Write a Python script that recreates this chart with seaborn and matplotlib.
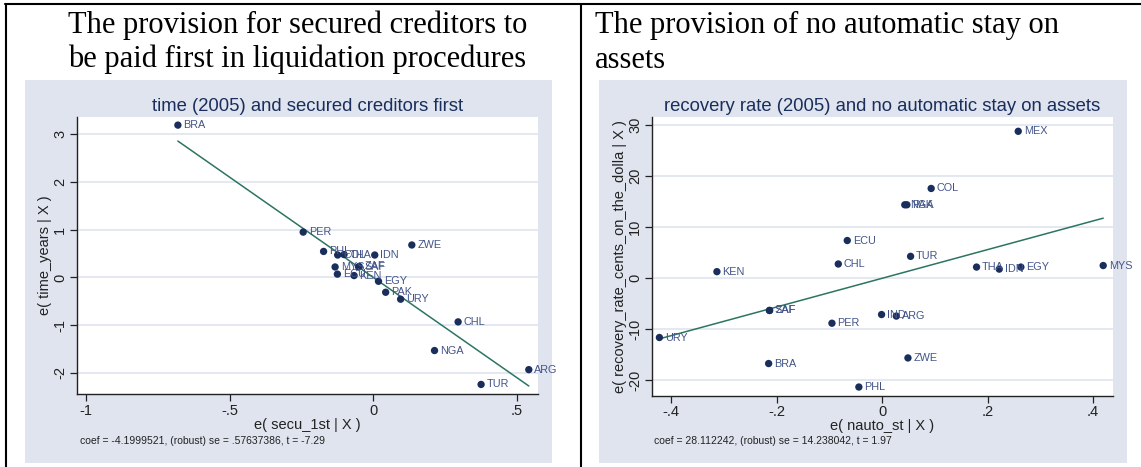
import matplotlib
matplotlib.use("Agg")
import matplotlib.pyplot as plt
import seaborn as sns
import numpy as np
import pandas as pd
from matplotlib.patches import Rectangle
from matplotlib.lines import Line2D

# ---------------- data ----------------
left_codes = ["BRA", "PER", "ZWE", "PHL", "COL", "THA", "IDN", "MYS", "SAF", "ZAF",
              "ECU", "KEN", "EGY", "PAK", "URY", "CHL", "NGA", "ARG", "TUR"]
left_x = [-0.68, -0.244, 0.134, -0.173, -0.124, -0.102, 0.005, -0.133, -0.051, -0.049,
          -0.125, -0.067, 0.018, 0.043, 0.095, 0.295, 0.213, 0.541, 0.375]
left_y = [3.19, 0.95, 0.68, 0.545, 0.47, 0.48, 0.47, 0.22, 0.22, 0.23,
          0.07, 0.04, -0.08, -0.31, -0.455, -0.93, -1.53, -1.93, -2.24]
left_coef = -4.1999521

right_codes = ["MEX", "COL", "NGA", "PAK", "ECU", "TUR", "CHL", "KEN", "THA", "IDN",
               "EGY", "MYS", "SAF", "ZAF", "IND", "ARG", "PER", "URY", "BRA", "ZWE", "PHL"]
right_x = [0.258, 0.093, 0.043, 0.047, -0.066, 0.054, -0.083, -0.313, 0.179, 0.222,
           0.263, 0.419, -0.2136, -0.2130, -0.001, 0.027, -0.095, -0.422, -0.215, 0.049, -0.044]
right_y = [28.8, 17.6, 14.4, 14.4, 7.4, 4.3, 2.8, 1.3, 2.2, 1.8,
           2.2, 2.5, -6.3, -6.3, -7.1, -7.4, -8.8, -11.6, -16.7, -15.6, -21.3]
right_coef = 28.112242

left_xticks = [-1, -0.5, 0, 0.5]
left_xticklabels = ["-1", "-.5", "0", ".5"]
left_yticks = [-2, -1, 0, 1, 2, 3]
right_xticks = [-0.4, -0.2, 0, 0.2, 0.4]
right_xticklabels = ["-.4", "-.2", "0", ".2", ".4"]
right_yticks = [-20, -10, 0, 10, 20, 30]

heading_left = ["The provision for secured creditors to", "be paid first in liquidation procedures"]
heading_right = ["The provision of no automatic stay on", "assets"]
title_left = "time (2005) and secured creditors first"
title_right = "recovery rate (2005) and no automatic stay on assets"
xlabel_left = "e( secu_1st | X )"
ylabel_left = "e( time_years | X )"
xlabel_right = "e( nauto_st | X )"
ylabel_right = "e( recovery_rate_cents_on_the_dolla | X )"
note_left = "coef = -4.1999521, (robust) se = .57637386, t = -7.29"
note_right = "coef = 28.112242, (robust) se = 14.238042, t = 1.97"

# ---------------- styling ----------------
sns.set_theme(style="white")
plt.rcParams["font.family"] = ["Liberation Sans", "DejaVu Sans"]

W, H = 1141, 467
BG = "#dfe4ee"
NAVY = "#1a2e5c"
LABEL = "#43548a"
LINE = "#2b7561"
GRID = "#e1e6f0"

fig = plt.figure(figsize=(W / 100, H / 100), dpi=100)
fig.patch.set_facecolor("white")


def fx(px):
    return px / W


def fy(py):
    return 1 - py / H


# graph-region backgrounds
for x0, x1 in [(25, 552), (599, 1127)]:
    fig.add_artist(Rectangle((fx(x0), fy(462.5)), fx(x1) - fx(x0), fy(80) - fy(462.5),
                             transform=fig.transFigure, facecolor=BG, edgecolor="none", zorder=0))

# table borders
for (xa, ya, xb, yb) in [(5, 4, 1141, 4), (6, 4, 6, 467), (581, 4, 581, 467)]:
    fig.add_artist(Line2D([fx(xa), fx(xb)], [fy(ya), fy(yb)], transform=fig.transFigure,
                          color="black", lw=1.5, zorder=5))

# headings
serif = ["Liberation Serif", "DejaVu Serif"]
for lines, x0 in [(heading_left, 68), (heading_right, 595)]:
    for i, t in enumerate(lines):
        fig.text(fx(x0), fy(32.5 + 35 * i), t, family=serif, fontsize=22, color="black",
                 ha="left", va="baseline")


def panel(rect, codes, xs, ys, coef, xlim, ylim, xticks, xticklabels, yticks,
          title, xlabel, ylabel, note, note_x, title_y):
    ax = fig.add_axes(rect)
    ax.set_facecolor("white")
    df = pd.DataFrame({"x": xs, "y": ys, "code": codes})
    xline = np.array([df["x"].min(), df["x"].max()])
    line_df = pd.DataFrame({"x": xline, "y": coef * xline})
    sns.lineplot(data=line_df, x="x", y="y", ax=ax, color=LINE, lw=1.1, zorder=2)
    sns.scatterplot(data=df, x="x", y="y", ax=ax, color=NAVY, s=28, edgecolor="none", zorder=3)
    for c, x, y in zip(codes, xs, ys):
        ax.annotate(c, (x, y), xytext=(4, 0), textcoords="offset points",
                    fontsize=7.8, color=LABEL, va="center", ha="left", zorder=4,
                    annotation_clip=False)
    ax.set_xlim(*xlim)
    ax.set_ylim(*ylim)
    ax.set_xticks(xticks)
    ax.set_xticklabels(xticklabels)
    ax.set_yticks(yticks)
    ax.set_yticklabels([str(v) for v in yticks], rotation=90, va="center")
    ax.yaxis.grid(True, color=GRID, lw=1.3)
    ax.xaxis.grid(False)
    ax.set_axisbelow(True)
    for s in ["top", "right"]:
        ax.spines[s].set_visible(False)
    for s in ["left", "bottom"]:
        ax.spines[s].set_color("#222222")
        ax.spines[s].set_linewidth(1.0)
    ax.tick_params(axis="both", which="major", direction="out", length=5, width=0.9,
                   color="#222222", labelsize=10.5, labelcolor="#222222", pad=2,
                   bottom=True, left=True)
    ax.set_xlabel(xlabel, fontsize=10.5, color="#222222", labelpad=0)
    ax.set_ylabel(ylabel, fontsize=10.5, color="#222222", labelpad=1)
    cx = rect[0] + rect[2] / 2
    fig.text(cx, fy(title_y), title, fontsize=13.3, color=NAVY, ha="center", va="baseline")
    fig.text(fx(note_x), fy(441), note, fontsize=7.5, color="#222222", ha="left", va="center")
    return ax


panel([fx(77), fy(394), fx(538) - fx(77), fy(117) - fy(394)],
      left_codes, left_x, left_y, left_coef, (-1.031, 0.573), (-2.44, 3.36),
      left_xticks, left_xticklabels, left_yticks,
      title_left, xlabel_left, ylabel_left, note_left, 80, 111)

panel([fx(651.7), fy(395.7), fx(1112.7) - fx(651.7), fy(117) - fy(395.7)],
      right_codes, right_x, right_y, right_coef, (-0.4366, 0.437), (-23.0, 31.6),
      right_xticks, right_xticklabels, right_yticks,
      title_right, xlabel_right, ylabel_right, note_right, 654, 111)

fig.savefig("out.png", dpi=100, facecolor="white")
